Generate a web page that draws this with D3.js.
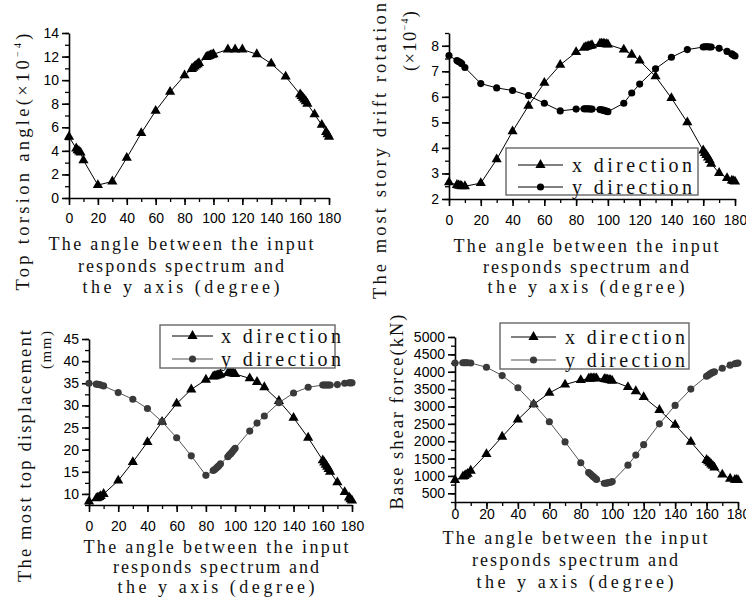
<!DOCTYPE html>
<html>
<head>
<meta charset="utf-8">
<script src="https://cdn.jsdelivr.net/npm/d3@7"></script>
<style>
  html, body { margin: 0; padding: 0; background: #fff; }
  svg { display: block; }
  .tick text { font-family: "Liberation Sans", Arial, sans-serif; font-size: 14px; fill: #000; }
  .ttl { font-family: "Liberation Serif", "Times New Roman", serif; fill: #111; }
</style>
</head>
<body>
<svg id="chart" width="746" height="601"></svg>
<script>
// ---------------- DATA ----------------
const angles = [0,5,6,7,8,10,20,30,40,50,60,70,80,85,86,87,88,89,90,95,96,97,98,99,100,110,115,120,130,140,150,160,161,162,163,164,165,170,175,178,179,180];

// Panel 1: top torsion angle (x10^-4)
const p1Torsion = [5.2,4.2,4.05,3.95,3.85,3.2,1.1,1.4,3.4,5.5,7.4,9.0,10.4,10.95,11.05,11.15,11.25,11.35,11.45,11.95,12.0,12.05,12.1,12.15,12.2,12.6,12.6,12.6,12.2,11.4,10.3,8.8,8.65,8.5,8.35,8.2,8.0,7.1,6.2,5.6,5.4,5.2];

// Panel 2: most story drift rotation (x10^-4)
const p2X = [2.65,2.55,2.53,2.52,2.5,2.5,2.62,3.55,4.65,5.65,6.55,7.25,7.75,7.92,7.95,7.97,7.99,8.0,8.02,8.08,8.08,8.08,8.07,8.06,8.05,7.85,7.65,7.42,6.8,5.95,5.0,3.9,3.8,3.72,3.62,3.52,3.38,3.02,2.82,2.72,2.7,2.68];
const p2Y = [7.62,7.42,7.38,7.35,7.3,7.15,6.52,6.35,6.25,6.05,5.75,5.45,5.52,5.53,5.53,5.53,5.53,5.52,5.52,5.5,5.49,5.48,5.46,5.44,5.42,5.75,6.15,6.5,7.1,7.55,7.85,7.95,7.96,7.96,7.96,7.95,7.95,7.9,7.78,7.68,7.64,7.6];

// Panel 3: most top displacement (mm)
const p3X = [8.3,9.0,9.15,9.3,9.5,10.0,13.0,17.2,21.7,26.3,30.4,33.6,35.8,36.5,36.6,36.7,36.8,36.9,37.0,37.3,37.3,37.3,37.25,37.2,37.1,36.1,35.3,34.1,31.0,27.2,22.7,17.6,17.1,16.6,16.1,15.6,15.0,12.6,10.4,9.2,8.8,8.5];
const p3Y = [35.0,34.8,34.75,34.7,34.6,34.4,32.9,31.4,29.3,26.3,22.7,18.6,14.2,15.3,15.5,15.8,16.1,16.4,16.8,18.4,18.8,19.1,19.5,19.9,20.3,24.2,26.0,27.6,30.6,32.8,34.1,34.6,34.6,34.6,34.6,34.6,34.6,34.7,35.0,35.1,35.1,35.1];

// Panel 4: base shear force (kN)
const p4X = [880,980,1000,1030,1060,1150,1630,2130,2620,3060,3390,3630,3760,3800,3805,3810,3810,3810,3810,3790,3785,3775,3765,3755,3740,3560,3440,3270,2900,2470,1980,1460,1420,1380,1330,1290,1240,1040,920,890,885,880];
const p4Y = [4250,4260,4260,4260,4260,4250,4130,3890,3540,3070,2560,1980,1380,1100,1060,1020,980,940,900,790,790,800,810,820,840,1310,1600,1900,2500,3030,3500,3870,3900,3930,3960,3980,4000,4100,4190,4230,4240,4250];

const xTicks = [0,20,40,60,80,100,120,140,160,180];
const p1Ticks = [0,2,4,6,8,10,12,14];
const p2Ticks = [2,3,4,5,6,7,8];
const p3Ticks = [10,15,20,25,30,35,40,45];
const p4Ticks = [500,1000,1500,2000,2500,3000,3500,4000,4500,5000];
const xTitle = ["The angle between the input", "responds spectrum and", "the y axis (degree)"];
const legendLabels = ["x direction", "y direction"];

// ---------------- DRAWING ----------------
const svg = d3.select("#chart");
const fmt = d3.format("d");
const titleLens = [265, 206, 197];

function panel(cfg) {
  const g = svg.append("g");
  const x = d3.scaleLinear().domain([0, 180]).range([cfg.x0, cfg.x1]);
  const y = d3.scaleLinear().domain(cfg.yDomain).range([cfg.yBottom, cfg.yTop]);

  // minor ticks
  const xMinor = d3.range(0, 181, 10);
  g.append("g").attr("transform", `translate(0,${cfg.yBottom})`)
    .call(d3.axisBottom(x).tickValues(xMinor).tickSize(4).tickFormat(""))
    .call(s => s.select(".domain").remove())
    .selectAll("line").attr("stroke", "#000").attr("stroke-width", 1.3);
  const yMinor = d3.range(cfg.yDomain[0], cfg.yDomain[1] + 1e-9, cfg.yMinorStep);
  g.append("g").attr("transform", `translate(${cfg.x0},0)`)
    .call(d3.axisLeft(y).tickValues(yMinor).tickSize(4).tickFormat(""))
    .call(s => s.select(".domain").remove())
    .selectAll("line").attr("stroke", "#000").attr("stroke-width", 1.3);

  // major axes
  const ax = g.append("g").attr("transform", `translate(0,${cfg.yBottom})`)
    .call(d3.axisBottom(x).tickValues(xTicks).tickSize(7).tickSizeOuter(0).tickPadding(cfg.xPad).tickFormat(fmt));
  ax.select(".domain").attr("stroke", "#000").attr("stroke-width", 1.6);
  ax.selectAll(".tick line").attr("stroke", "#000").attr("stroke-width", 1.6);
  const ay = g.append("g").attr("transform", `translate(${cfg.x0},0)`)
    .call(d3.axisLeft(y).tickValues(cfg.yTicks).tickSize(7).tickSizeOuter(0).tickPadding(3).tickFormat(fmt));
  ay.select(".domain").attr("stroke", "#000").attr("stroke-width", 1.6);
  ay.selectAll(".tick line").attr("stroke", "#000").attr("stroke-width", 1.6);

  // series
  cfg.series.forEach(s => {
    const pts = angles.map((a, i) => [a, s.values[i]]);
    g.append("path").datum(pts)
      .attr("fill", "none").attr("stroke", s.lineColor).attr("stroke-width", 1)
      .attr("d", d3.line().x(d => x(d[0])).y(d => y(d[1])));
    const sym = d3.symbol().type(s.shape === "tri" ? d3.symbolTriangle : d3.symbolCircle)
      .size(s.shape === "tri" ? 45 : 40);
    g.selectAll(null).data(pts).enter().append("path")
      .attr("d", sym)
      .attr("transform", d => `translate(${x(d[0])},${y(d[1])})`)
      .attr("fill", s.markColor);
  });

  // x title
  xTitle.forEach((t, i) => {
    g.append("text").attr("class", "ttl")
      .attr("x", cfg.titleX).attr("y", cfg.titleY[i])
      .attr("text-anchor", "middle").attr("dominant-baseline", "central")
      .attr("textLength", titleLens[i]).attr("lengthAdjust", "spacing")
      .style("font-size", "18px").text(t);
  });

  // y label(s)
  cfg.yLabels.forEach(l => {
    const t = g.append("text").attr("class", "ttl")
      .attr("transform", `translate(${l.x},${l.y}) rotate(-90)`)
      .attr("text-anchor", "middle").attr("dominant-baseline", "central")
      .attr("textLength", l.len).attr("lengthAdjust", "spacing")
      .style("font-size", (l.size || 18.5) + "px");
    l.parts.forEach(p => {
      const ts = t.append("tspan").text(p.t);
      if (p.sup) ts.attr("baseline-shift", "super").style("font-size", "10px");
    });
  });

  // legend
  if (cfg.legend) {
    const L = cfg.legend;
    g.append("rect").attr("x", L.x).attr("y", L.y).attr("width", L.w).attr("height", L.h)
      .attr("fill", "#fff").attr("stroke", "#666").attr("stroke-width", 1.4);
    cfg.series.forEach((s, i) => {
      const cy = L.rows[i];
      g.append("line").attr("x1", L.lx0).attr("x2", L.lx1).attr("y1", cy).attr("y2", cy)
        .attr("stroke", s.lineColor).attr("stroke-width", 1);
      const sym = d3.symbol().type(s.shape === "tri" ? d3.symbolTriangle : d3.symbolCircle)
        .size(s.shape === "tri" ? 45 : 40);
      g.append("path").attr("d", sym)
        .attr("transform", `translate(${(L.lx0 + L.lx1) / 2},${cy})`).attr("fill", s.markColor);
      g.append("text").attr("class", "ttl").attr("x", L.tx).attr("y", cy)
        .attr("dominant-baseline", "central").style("font-size", "20px")
        .attr("textLength", 120).attr("lengthAdjust", "spacing")
        .text(legendLabels[i]);
    });
  }
}

const sup4 = [{t: "(×10"}, {t: "−4", sup: true}, {t: ")"}];

panel({
  x0: 69, x1: 329, yTop: 33, yBottom: 198, yDomain: [0, 14], yTicks: p1Ticks, yMinorStep: 1, xPad: 8,
  series: [{values: p1Torsion, shape: "tri", lineColor: "#000", markColor: "#000"}],
  titleX: 181, titleY: [244, 266, 287],
  yLabels: [{x: 23, y: 162, len: 257, parts: [{t: "Top torsion angle"}].concat(sup4)}]
});

panel({
  x0: 449, x1: 735, yTop: 33, yBottom: 199, yDomain: [2, 8.5], yTicks: p2Ticks, yMinorStep: 0.5, xPad: 9,
  series: [
    {values: p2X, shape: "tri", lineColor: "#000", markColor: "#000"},
    {values: p2Y, shape: "circ", lineColor: "#000", markColor: "#000"}
  ],
  titleX: 586, titleY: [246, 267, 287],
  yLabels: [
    {x: 380, y: 151, len: 296, parts: [{t: "The most story drift rotation"}]},
    {x: 410, y: 41, len: 60, parts: sup4}
  ],
  legend: {x: 506, y: 148, w: 192, h: 47, rows: [165, 187], lx0: 518, lx1: 563, tx: 572}
});

panel({
  x0: 89, x1: 352, yTop: 339, yBottom: 505, yDomain: [7.5, 45], yTicks: p3Ticks, yMinorStep: 2.5, xPad: 9,
  series: [
    {values: p3X, shape: "tri", lineColor: "#000", markColor: "#000"},
    {values: p3Y, shape: "circ", lineColor: "#555", markColor: "#3a3a3a"}
  ],
  titleX: 216, titleY: [547, 567, 587],
  yLabels: [
    {x: 25, y: 456, len: 252, parts: [{t: "The most top displacement"}]},
    {x: 46, y: 350, len: 38, parts: [{t: "(mm)"}], size: 15}
  ],
  legend: {x: 160, y: 325, w: 175, h: 43, rows: [336, 359], lx0: 172, lx1: 213, tx: 221}
});

panel({
  x0: 455, x1: 738, yTop: 337, yBottom: 502, yDomain: [250, 5000], yTicks: p4Ticks, yMinorStep: 250, xPad: 0,
  series: [
    {values: p4X, shape: "tri", lineColor: "#000", markColor: "#000"},
    {values: p4Y, shape: "circ", lineColor: "#555", markColor: "#3a3a3a"}
  ],
  titleX: 575, titleY: [538, 560, 582],
  yLabels: [{x: 397, y: 412, len: 195, parts: [{t: "Base shear force(kN)"}]}],
  legend: {x: 500, y: 323, w: 189, h: 46, rows: [337, 360], lx0: 511, lx1: 556, tx: 565}
});
</script>
</body>
</html>
